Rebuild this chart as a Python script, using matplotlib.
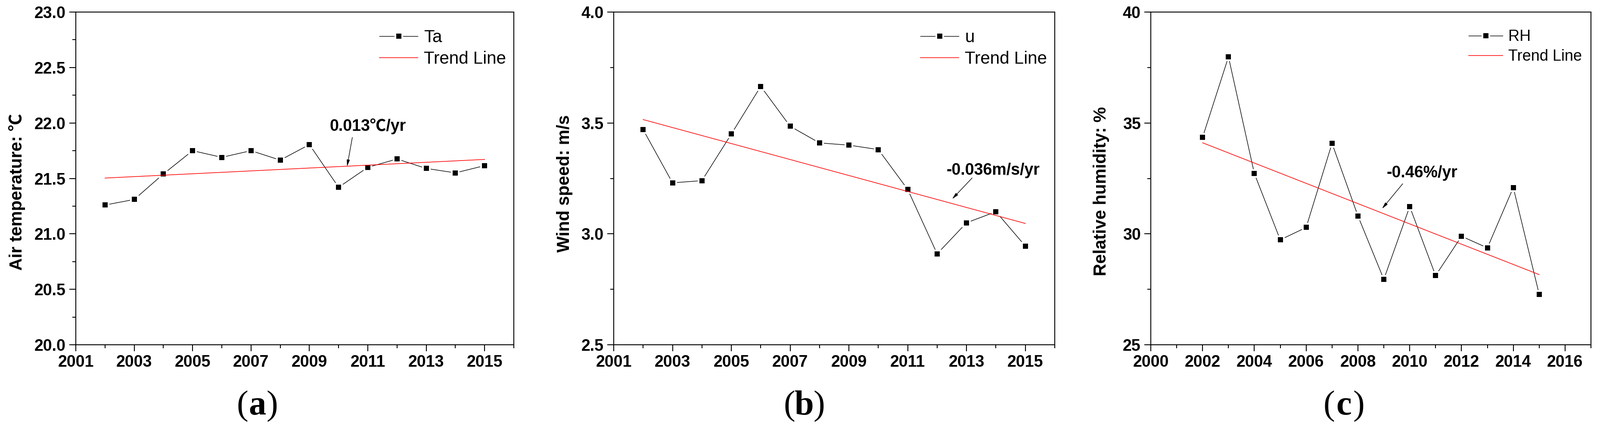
import numpy as np
import matplotlib
matplotlib.use('Agg')
from matplotlib import pyplot as plt
from matplotlib.ticker import MultipleLocator, FormatStrFormatter

plt.rcParams['font.family'] = ['Liberation Sans', 'Noto Sans CJK SC', 'DejaVu Sans']

years = np.arange(2002, 2016)

ta = [21.26, 21.31, 21.54, 21.75, 21.69, 21.75, 21.665, 21.805,
      21.42, 21.60, 21.675, 21.59, 21.55, 21.615]
u = [3.47, 3.23, 3.24, 3.45, 3.665, 3.485, 3.41, 3.40,
     3.38, 3.20, 2.91, 3.05, 3.10, 2.945]
rh = [34.35, 37.98, 32.72, 29.73, 30.29, 34.08, 30.81, 27.95,
      31.23, 28.12, 29.89, 29.37, 32.09, 27.28]

names = ['Ta', 'u', 'RH']
ylabels = ['Air temperature: \u2103', 'Wind speed: m/s', 'Relative humidity: %']
rates = ['0.013\u2103/yr', '-0.036m/s/yr', '-0.46%/yr']
panels = ['a', 'b', 'c']

fig = plt.figure(figsize=(37.15, 10.06), dpi=100)

# left, width, label-centre (pixels)
pos = [(176, 1017, 597), (1425, 1024, 1867), (2672, 1022, 3120)]
xlims = [(2001, 2016), (2001, 2016), (2000, 2017)]
xoff = [1, 1, 0]
ylims = [(20, 23), (2.5, 4.0), (25, 40)]
ymaj = [0.5, 0.5, 5]
yfmt = ['%.1f', '%.1f', '%d']
# text centre, arrow tail, arrow tip (data coords)
notes = [((2011.0, 21.97), (2010.47, 21.87), (2010.29, 21.607)),
         ((2013.9, 3.285), (2013.19, 3.252), (2012.51, 3.157)),
         ((2010.48, 32.74), (2009.73, 32.26), (2008.93, 31.13))]
leg_fs = [29, 29, 26]
leg_dx = [2, 2, 6.6]
leg_dy = [24, 24, 26]
lpad = [15, 14, 22]
label_y = [0.459, 0.484, 0.461]

W, H = 3715, 1006
for i, vals in enumerate([ta, u, rh]):
    left, width, cx = pos[i]
    ax = fig.add_axes([left / W, (H - 801) / H, width / W, 773 / H])

    ax.plot(years, vals, '-s', color='black', lw=1.0, ms=12.2,
            mfc='black', mec='white', mew=2.9, label=names[i], zorder=3)
    k, b = np.polyfit(years, vals, 1)
    ax.plot(years, k * years + b, color='red', lw=1.1, label='Trend Line', zorder=4)

    ax.set_xlim(*xlims[i])
    ax.set_ylim(*ylims[i])
    ax.xaxis.set_major_locator(MultipleLocator(2, offset=xoff[i]))
    ax.xaxis.set_minor_locator(MultipleLocator(1))
    ax.yaxis.set_major_locator(MultipleLocator(ymaj[i]))
    ax.yaxis.set_minor_locator(MultipleLocator(ymaj[i] / 2))
    ax.yaxis.set_major_formatter(FormatStrFormatter(yfmt[i]))

    for s in ax.spines.values():
        s.set_linewidth(1.5)
    ax.tick_params(which='major', direction='out', length=10.8, width=1.5,
                   labelsize=27, pad=6, top=False, right=False)
    ax.tick_params(which='minor', direction='out', length=5.8, width=1.5,
                   top=False, right=False)
    for lab in ax.get_xticklabels() + ax.get_yticklabels():
        lab.set_fontweight('bold')

    ax.set_ylabel(ylabels[i], fontsize=29, fontweight='bold', labelpad=lpad[i])
    ax.yaxis.label.set_y(label_y[i])

    ax.legend(loc='upper right', frameon=False, fontsize=leg_fs[i],
              handlelength=2.2, handletextpad=0.35, labelspacing=0.3,
              borderaxespad=0,
              bbox_to_anchor=(1 - leg_dx[i] / width, 1 - leg_dy[i] / 773))

    txt, tail, tip = notes[i]
    ax.text(txt[0], txt[1], rates[i], fontsize=27, fontweight='bold',
            ha='center', va='center')
    ax.annotate('', xy=tip, xytext=tail,
                arrowprops=dict(arrowstyle='-|>,head_length=0.9,head_width=0.2',
                                color='black', lw=1.0, shrinkA=0, shrinkB=0))

    ty = 1 - 944 / H
    fig.text((cx - 21) / W, ty, '(', fontsize=58, family='Liberation Serif',
             ha='right', va='center')
    fig.text(cx / W, ty, panels[i], fontsize=58, family='Liberation Serif',
             fontweight='bold', ha='center', va='center')
    fig.text((cx + 21) / W, ty, ')', fontsize=58, family='Liberation Serif',
             ha='left', va='center')

fig.savefig('out.png', dpi=100)
